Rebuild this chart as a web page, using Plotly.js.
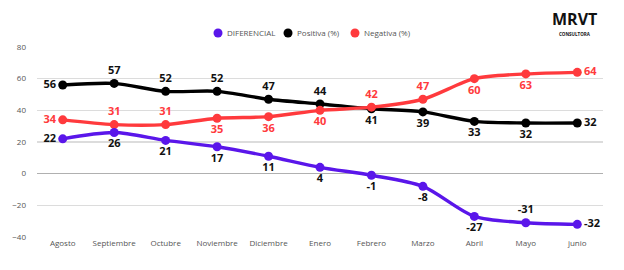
<!DOCTYPE html>
<html><head><meta charset="utf-8">
<script src="https://cdn.plot.ly/plotly-3.0.1.min.js"></script>
<style>html,body{margin:0;padding:0;background:#fff}#c{width:624px;height:270px}</style>
</head><body><div id="c"></div>
<script>
const months = ["Agosto","Septiembre","Octubre","Noviembre","Diciembre","Enero","Febrero","Marzo","Abril","Mayo","junio"];
const diferencial = [22,26,21,17,11,4,-1,-8,-27,-31,-32];
const positiva = [56,57,52,52,47,44,41,39,33,32,32];
const negativa = [34,31,31,35,36,40,42,47,60,63,64];
const seriesNames = ["DIFERENCIAL","Positiva (%)","Negativa (%)"];
const posDifPos = ["middle left","bottom center","bottom center","bottom center","bottom center","bottom center","bottom center","bottom center","bottom center","top center","middle right"];
const posPosPos = ["middle left","top center","top center","top center","top center","top center","bottom center","bottom center","bottom center","bottom center","middle right"];
const posNegPos = ["middle left","top center","top center","bottom center","bottom center","bottom center","top center","top center","bottom center","bottom center","middle right"];

const cPur = "#5a16ea", cBlk = "#000000", cRed = "#ff3a3d";
const colors = [cPur, cBlk, cRed];
function tr(name, y, color, tpos, tcolor){
  return {x: months, y: y, name: name, mode: "lines+markers+text", type: "scatter",
    line: {color: color, width: 3.4, shape: "spline", smoothing: 0.8},
    marker: {color: color, size: 9},
    text: y.map(String), textposition: tpos,
    textfont: {family: "Open Sans", size: 11, color: tcolor, weight: 700},
    showlegend: false, cliponaxis: false};
}
const data = [
  tr(seriesNames[1], positiva, cBlk, posPosPos, "#111"),
  tr(seriesNames[2], negativa, cRed, posNegPos, cRed),
  tr(seriesNames[0], diferencial, cPur, posDifPos, "#111")
];
// custom legend (paper coords)
const legX = [0.3198, 0.4435, 0.5618], legY = 1.0737;
const shapes = [], annotations = [];
seriesNames.forEach((n, i) => {
  shapes.push({type: "circle", xref: "paper", yref: "paper", xsizemode: "pixel", ysizemode: "pixel",
    xanchor: legX[i], yanchor: legY, x0: -4.5, x1: 4.5, y0: -4.5, y1: 4.5,
    fillcolor: colors[i], line: {width: 0}});
  annotations.push({xref: "paper", yref: "paper", x: legX[i] + 0.013, y: legY, xanchor: "left", yanchor: "middle",
    text: n, showarrow: false, font: {family: "Open Sans", size: 8, color: "#555"}});
});
annotations.push({xref: "paper", yref: "paper", x: 0.95, y: 1.145, xanchor: "center", yanchor: "middle",
  text: "<b>MRVT</b>", showarrow: false, borderpad: 0, font: {family: "Open Sans", size: 16, color: "#111"}});
annotations.push({xref: "paper", yref: "paper", x: 0.95, y: 1.07, xanchor: "center", yanchor: "middle",
  text: "<b>CONSULTORA</b>", showarrow: false, borderpad: 0, font: {family: "Open Sans", size: 4.5, color: "#111"}});

const layout = {
  width: 624, height: 270,
  margin: {l: 37, r: 21, t: 47, b: 33},
  paper_bgcolor: "#fff", plot_bgcolor: "#fff",
  font: {family: "Open Sans", size: 8, color: "#555"},
  showlegend: false,
  xaxis: {type: "category", range: [-0.5, 10.5], showgrid: false, zeroline: false, showline: false,
    ticks: "", tickfont: {size: 8, color: "#555"}},
  yaxis: {range: [-40, 80], dtick: 20, showgrid: true, gridcolor: "#dcdcdc", gridwidth: 1.5,
    zeroline: true, zerolinecolor: "#b0b0b0", zerolinewidth: 1.5, ticks: "",
    tickfont: {size: 8, color: "#555"}, ticklabelstandoff: 10},
  shapes: shapes,
  annotations: annotations
};
Plotly.newPlot("c", data, layout, {displayModeBar: false, staticPlot: true});
</script></body></html>
